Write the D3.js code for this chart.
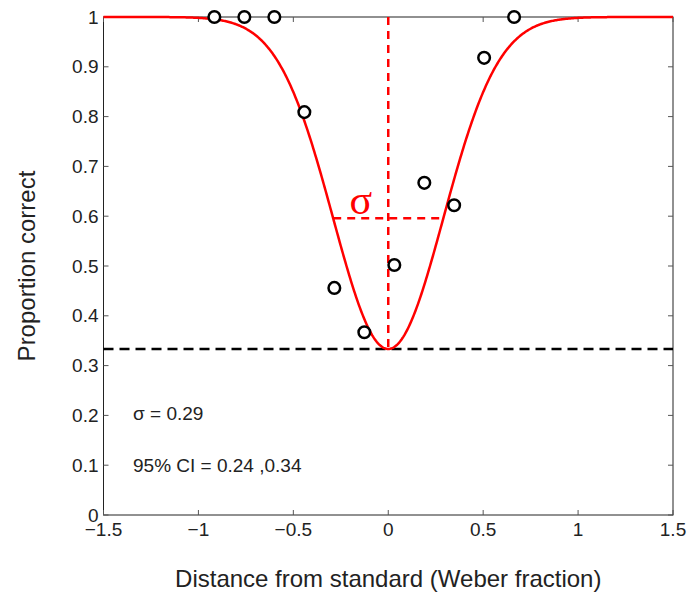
<!DOCTYPE html>
<html>
<head>
<meta charset="utf-8">
<script src="https://cdn.jsdelivr.net/npm/d3@7"></script>
<style>
  body { margin: 0; background: #fff; }
  svg text { font-family: "Liberation Sans", Helvetica, Arial, sans-serif; fill: #222; }
</style>
</head>
<body>
<div id="chart"></div>
<script>
// observed proportions correct
const distances = [-0.916, -0.758, -0.600, -0.442, -0.284, -0.126, 0.032, 0.190, 0.347, 0.505, 0.663];
const proportions = [1.0, 1.0, 1.0, 0.809, 0.456, 0.367, 0.502, 0.667, 0.622, 0.918, 1.0];

// fitted parameters
const sigma = 0.29;
const chance = 1 / 3;
const ciText = '95% CI = 0.24 ,0.34';

const xTicks = [-1.5, -1, -0.5, 0, 0.5, 1, 1.5];
const yTicks = [0, 0.1, 0.2, 0.3, 0.4, 0.5, 0.6, 0.7, 0.8, 0.9, 1];

let config = {
  w: 699,
  h: 593,
  margin: { top: 17, right: 26, bottom: 78, left: 103.5 },
};

const innerW = config.w - config.margin.left - config.margin.right;
const innerH = config.h - config.margin.top - config.margin.bottom;

const svg = d3
  .select('#chart')
  .append('svg')
  .attr('width', config.w)
  .attr('height', config.h);

const g = svg
  .append('g')
  .attr('transform', `translate(${config.margin.left},${config.margin.top})`);

const x = d3.scaleLinear().domain([-1.5, 1.5]).range([0, innerW]);
const y = d3.scaleLinear().domain([0, 1]).range([innerH, 0]);

const fmt = (d) => String(d).replace('-', '\u2212');

// box and inward ticks (matlab style)
const tickLen = 5;
g.append('rect')
  .attr('width', innerW)
  .attr('height', innerH)
  .style('fill', 'none')
  .style('stroke', '#222')
  .style('stroke-width', 1);

xTicks.forEach((t) => {
  g.append('line')
    .attr('x1', x(t)).attr('x2', x(t))
    .attr('y1', innerH).attr('y2', innerH - tickLen)
    .style('stroke', '#555');
  g.append('line')
    .attr('x1', x(t)).attr('x2', x(t))
    .attr('y1', 0).attr('y2', tickLen)
    .style('stroke', '#555');
  g.append('text')
    .attr('x', x(t))
    .attr('y', innerH + 21)
    .attr('text-anchor', 'middle')
    .attr('font-size', 19)
    .text(fmt(t));
});

yTicks.forEach((t) => {
  g.append('line')
    .attr('x1', 0).attr('x2', tickLen)
    .attr('y1', y(t)).attr('y2', y(t))
    .style('stroke', '#555');
  g.append('line')
    .attr('x1', innerW).attr('x2', innerW - tickLen)
    .attr('y1', y(t)).attr('y2', y(t))
    .style('stroke', '#555');
  g.append('text')
    .attr('x', -5)
    .attr('y', y(t))
    .attr('dy', '0.35em')
    .attr('text-anchor', 'end')
    .attr('font-size', 19)
    .text(t);
});

// axis labels
svg.append('text')
  .attr('x', config.margin.left + x(0))
  .attr('y', 587)
  .attr('text-anchor', 'middle')
  .attr('font-size', 24)
  .text('Distance from standard (Weber fraction)');

svg.append('text')
  .attr('transform', `translate(35,${config.margin.top + innerH / 2}) rotate(-90)`)
  .attr('text-anchor', 'middle')
  .attr('font-size', 24)
  .text('Proportion correct');

// chance level
g.append('line')
  .attr('x1', 0).attr('x2', innerW)
  .attr('y1', y(chance)).attr('y2', y(chance))
  .style('stroke', '#000')
  .style('stroke-width', 2.5)
  .style('stroke-dasharray', '10,6');

// fitted curve
const psych = (d) => 1 - (1 - chance) * Math.exp(-(d * d) / (2 * sigma * sigma));
const curveXs = d3.range(-1.5, 1.5001, 0.005);

g.append('path')
  .datum(curveXs)
  .attr('d', d3.line().x((d) => x(d)).y((d) => y(psych(d))))
  .style('fill', 'none')
  .style('stroke', '#ff0000')
  .style('stroke-width', 2.5);

// sigma markers
g.append('line')
  .attr('x1', x(0)).attr('x2', x(0))
  .attr('y1', y(1)).attr('y2', y(chance))
  .style('stroke', '#ff0000')
  .style('stroke-width', 2.5)
  .style('stroke-dasharray', '8,6');

g.append('line')
  .attr('x1', x(-sigma)).attr('x2', x(sigma))
  .attr('y1', y(psych(sigma))).attr('y2', y(psych(sigma)))
  .style('stroke', '#ff0000')
  .style('stroke-width', 2.5)
  .style('stroke-dasharray', '8,6');

g.append('text')
  .attr('x', x(-sigma / 2))
  .attr('y', y(psych(sigma)) - 4)
  .attr('text-anchor', 'middle')
  .attr('font-size', 42)
  .style('font-family', '"Liberation Serif", "Times New Roman", serif')
  .style('fill', '#ff0000')
  .text('\u03c3');

// data points
g.append('g')
  .selectAll('circle')
  .data(distances)
  .enter()
  .append('circle')
  .attr('cx', (d) => x(d))
  .attr('cy', (d, i) => y(proportions[i]))
  .attr('r', 5.8)
  .style('fill', '#fff')
  .style('stroke', '#000')
  .style('stroke-width', 2.5);

// fit summary
g.append('text')
  .attr('x', 29.5)
  .attr('y', 403)
  .attr('font-size', 19)
  .text('\u03c3 = ' + sigma.toFixed(2));

g.append('text')
  .attr('x', 29.5)
  .attr('y', 455)
  .attr('font-size', 19)
  .text(ciText);
</script>
</body>
</html>
